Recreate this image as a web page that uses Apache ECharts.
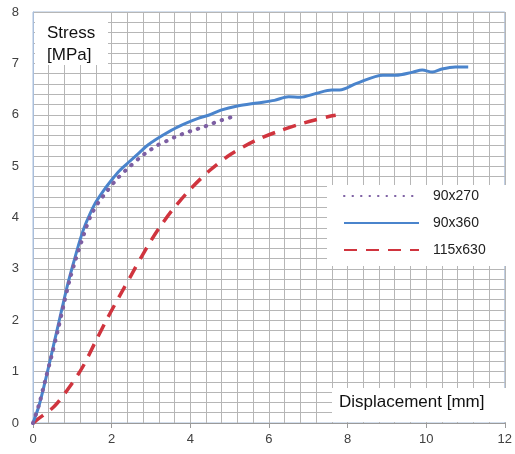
<!DOCTYPE html>
<html>
<head>
<meta charset="utf-8">
<script src="https://cdn.jsdelivr.net/npm/echarts@6/dist/echarts.min.js"></script>
<style>
  html, body { margin: 0; padding: 0; background: #fff; }
  #chart { width: 515px; height: 454px; }
</style>
</head>
<body>
<div id="chart"></div>
<script>
// Stress–displacement curves for three specimen sizes
const names = ['90x270', '90x360', '115x630'];

// [displacement mm, stress MPa]
const s90x270 = [
  [0, 0], [0.15, 0.35], [0.3, 0.8], [0.47, 1.3], [0.63, 1.8], [0.78, 2.3], [0.93, 2.78],
  [1.08, 3.17], [1.22, 3.5], [1.35, 3.8], [1.48, 4.05], [1.67, 4.3], [1.86, 4.49],
  [2.1, 4.72], [2.36, 4.92], [2.74, 5.18], [2.94, 5.29], [3.15, 5.4], [3.4, 5.49],
  [3.62, 5.57], [3.82, 5.63], [4.08, 5.7], [4.33, 5.76], [4.53, 5.82], [4.78, 5.89],
  [5.03, 5.95], [5.1, 5.97]
];
const s90x360 = [
  [0, 0], [0.15, 0.33], [0.3, 0.78], [0.45, 1.27], [0.6, 1.77], [0.75, 2.27], [0.9, 2.75],
  [1.05, 3.17], [1.18, 3.52], [1.3, 3.8], [1.45, 4.07], [1.6, 4.3], [1.8, 4.53],
  [2.0, 4.73], [2.2, 4.91], [2.44, 5.08], [2.7, 5.26], [2.94, 5.42], [3.3, 5.6],
  [3.7, 5.77], [4.2, 5.93], [4.5, 6.0], [4.78, 6.09], [5.2, 6.17], [5.71, 6.23],
  [6.14, 6.28], [6.5, 6.35], [6.79, 6.34], [7.22, 6.42], [7.6, 6.48], [7.8, 6.48],
  [8.23, 6.61], [8.9, 6.77], [9.23, 6.77], [9.66, 6.83], [9.9, 6.87], [10.16, 6.83],
  [10.4, 6.89], [10.74, 6.93], [11.07, 6.93]
];
const s115x630 = [
  [0, 0], [0.1, 0.06], [0.55, 0.33], [1.0, 0.78], [1.27, 1.1], [1.6, 1.6], [1.9, 2.05],
  [2.2, 2.47], [2.5, 2.88], [2.77, 3.25], [3.0, 3.55], [3.24, 3.83], [3.57, 4.17],
  [4.0, 4.55], [4.5, 4.92], [5.03, 5.23], [5.66, 5.5], [6.25, 5.68], [6.89, 5.84],
  [7.55, 5.97], [7.7, 5.99]
];

const xTicks = { min: 0, max: 12, step: 2 };
const yTicks = { min: 0, max: 8, step: 1 };

const gridColor = '#b6b6b6';
const labelColor = '#404040';
const font = 'Liberation Sans, Arial, sans-serif';

const chart = echarts.init(document.getElementById('chart'), null, { renderer: 'canvas' });

chart.setOption({
  animation: false,
  backgroundColor: '#fff',
  grid: {
    left: 33, right: 6, top: 12, bottom: 31,
    show: true, borderColor: '#a9bedb', borderWidth: 1
  },
  xAxis: {
    type: 'value', min: xTicks.min, max: xTicks.max, interval: xTicks.step,
    axisLine: { show: true, lineStyle: { color: '#9a9a9a' } },
    axisTick: { show: true, length: 5, lineStyle: { color: '#9a9a9a' } },
    minorTick: { show: false, splitNumber: 5 },
    axisLabel: { color: labelColor, fontSize: 13, fontFamily: font, margin: 10 },
    splitLine: { show: true, lineStyle: { color: gridColor, width: 1 } },
    minorSplitLine: { show: true, lineStyle: { color: gridColor, width: 1 } }
  },
  yAxis: {
    type: 'value', min: yTicks.min, max: yTicks.max, interval: yTicks.step,
    axisLine: { show: true, lineStyle: { color: '#a9bedb' } },
    axisTick: { show: false },
    minorTick: { show: false, splitNumber: 5 },
    axisLabel: { color: labelColor, fontSize: 13, fontFamily: font, margin: 14 },
    splitLine: { show: true, lineStyle: { color: gridColor, width: 1 } },
    minorSplitLine: { show: true, lineStyle: { color: gridColor, width: 1 } }
  },
  legend: {
    orient: 'vertical',
    left: 327, top: 185,
    padding: [4, 27, 9, 16],
    backgroundColor: '#fff',
    itemWidth: 75, itemHeight: 14, itemGap: 13,
    itemStyle: { opacity: 0 },
    textStyle: { color: '#222', fontSize: 14, fontFamily: font, padding: [0, 0, 0, 9] },
    data: names
  },
  graphic: [
    { type: 'rect', shape: { x: 35, y: 13, width: 73, height: 52 }, style: { fill: '#fff' }, z: 10 },
    { type: 'text', x: 47, y: 22, style: { text: 'Stress\n[MPa]', fill: '#111', font: '17px ' + font, lineHeight: 22 }, z: 11 },
    { type: 'rect', shape: { x: 332, y: 388, width: 175, height: 34 }, style: { fill: '#fff' }, z: 10 },
    { type: 'text', x: 339, y: 394, style: { text: 'Displacement [mm]', fill: '#111', font: '17px ' + font }, z: 11 }
  ],
  series: [
    {
      name: names[0], type: 'line', data: s90x270, symbol: 'none', smooth: 0.3, z: 4,
      lineStyle: { color: '#7d5fa3', width: 4, type: [0.5, 8], cap: 'round' },
      itemStyle: { color: '#7d5fa3' }
    },
    {
      name: names[1], type: 'line', data: s90x360, symbol: 'none', smooth: 0.3, z: 3,
      lineStyle: { color: '#4a84cc', width: 3 },
      itemStyle: { color: '#4a84cc' }
    },
    {
      name: names[2], type: 'line', data: s115x630, symbol: 'none', smooth: 0.3, z: 2,
      lineStyle: { color: '#d0343e', width: 3.5, type: [13, 9] },
      itemStyle: { color: '#d0343e' }
    }
  ]
});
</script>
</body>
</html>
